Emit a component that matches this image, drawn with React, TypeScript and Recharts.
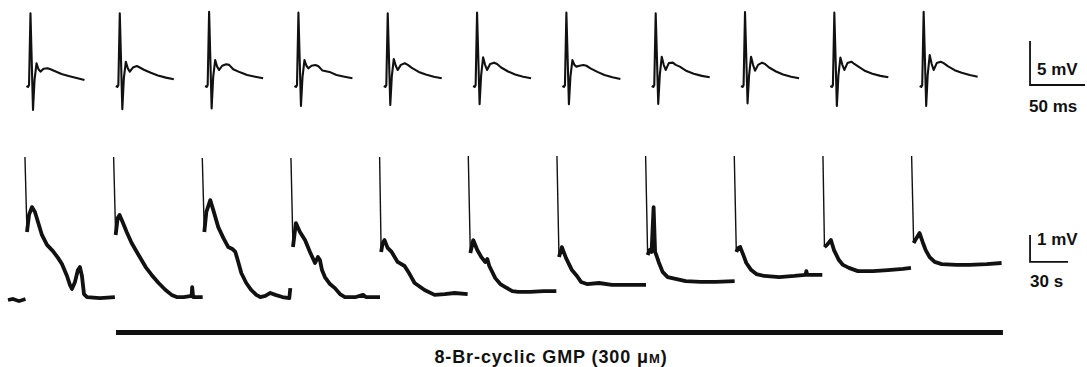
import { LineChart, Line, XAxis, YAxis } from 'recharts';

// top row: evoked potentials, time in ms from sweep start, mV from baseline
const TOP_T = [0, 1.4, 2.3, 3.6, 5.9, 7.3, 9.1, 10.9, 12.7, 15.5, 19.1, 21.8, 25.5, 31.8, 38.2, 45.5, 52.7];
const TOP_SWEEPS = [
  [0, -0.11, 0.11, 8.26, -2.73, 0.7, 2.58, 1.9, 1.63, 1.95, 2.01, 1.9, 1.7, 1.36, 1.14, 0.91, 0.68],
  [0, -0.1, 0.1, 8.26, -2.65, 0.9, 2.76, 2.0, 1.63, 2.1, 2.27, 2.1, 1.85, 1.5, 1.2, 0.95, 0.76],
  [0, -0.1, 0.1, 8.44, -2.54, 1.0, 2.95, 2.2, 1.82, 2.3, 2.46, 2.4, 1.9, 1.55, 1.25, 1.05, 0.87],
  [0, -0.1, 0.1, 8.33, -2.27, 1.0, 2.95, 2.3, 2.01, 2.3, 2.39, 2.25, 1.75, 1.6, 1.25, 1.05, 0.87],
  [0, -0.1, 0.1, 8.26, -2.16, 1.1, 3.07, 2.3, 1.82, 2.4, 2.58, 2.4, 2.05, 1.6, 1.3, 1.05, 0.87],
  [0, -0.1, 0.1, 8.33, -2.08, 1.2, 3.26, 2.4, 1.82, 2.5, 2.65, 2.5, 2.1, 1.65, 1.3, 1.05, 0.87],
  [0, -0.1, 0.1, 8.33, -2.08, 1.1, 2.95, 2.4, 2.2, 2.3, 2.39, 2.3, 2.0, 1.6, 1.25, 1.0, 0.8],
  [0, -0.1, 0.1, 8.26, -2.05, 1.2, 3.33, 2.4, 1.82, 2.6, 2.65, 2.4, 2.2, 1.7, 1.4, 1.15, 0.99],
  [0, -0.1, 0.1, 8.41, -1.97, 1.2, 3.33, 2.4, 1.74, 2.4, 2.65, 2.5, 2.1, 1.65, 1.3, 1.05, 0.87],
  [0, -0.1, 0.1, 8.33, -2.27, 1.2, 3.22, 2.4, 1.82, 2.6, 2.76, 2.5, 2.2, 1.7, 1.4, 1.15, 0.99],
  [0, -0.1, 0.1, 8.44, -2.27, 1.3, 3.52, 2.5, 1.82, 2.6, 2.76, 2.6, 2.25, 1.8, 1.5, 1.25, 1.06],
];
const TOP_START_MS = 24.1;
const TOP_INTERVAL_MS = 81.2;

// bottom row: slow potentials, [s from stimulus, mV from baseline]
const CONTROL_TAIL = [[-13.4, 0], [-9.5, 0.04], [-4.7, -0.04], [0.4, 0.04]];
const BOTTOM_SWEEPS = [
  [[0, 5.3], [1.6, 2.52], [3.2, 3.15], [5.5, 3.44], [7.9, 3.26], [10.3, 2.89], [13.4, 2.41], [17.4, 2.04], [22.1, 1.81], [26.1, 1.56], [29.2, 1.33], [33.2, 0.89], [35.5, 0.56], [37.1, 0.41], [39.5, 0.67], [41.8, 1.11], [43.4, 1.22], [45.0, 0.89], [46.6, 0.22], [49.0, 0.11], [59.2, 0.07], [71.0, 0.11]],
  [[0, 5.3], [1.6, 2.41], [3.2, 3.04], [4.7, 3.15], [7.1, 2.89], [10.3, 2.52], [14.2, 2.11], [19.7, 1.67], [25.3, 1.22], [30.0, 0.93], [35.5, 0.63], [41.0, 0.37], [45.8, 0.19], [49.8, 0.11], [55.3, 0.11], [61.6, 0.15], [62.0, 0.48], [62.8, 0.11], [70.3, 0.11]],
  [[0, 5.26], [1.6, 2.52], [3.2, 3.26], [6.3, 3.7], [8.7, 3.33], [12.6, 2.7], [16.6, 2.3], [20.5, 1.96], [23.7, 1.89], [26.1, 1.78], [28.4, 1.41], [30.8, 1.0], [34.7, 0.63], [38.7, 0.37], [42.6, 0.19], [45.8, 0.11], [49.8, 0.15], [53.7, 0.26], [57.7, 0.19], [63.2, 0.11], [68.7, 0.07], [69.5, 0.44]],
  [[0, 5.26], [1.6, 1.96], [3.9, 2.85], [7.1, 2.52], [11.1, 2.22], [15.0, 1.78], [19.0, 1.37], [21.3, 1.59], [22.9, 1.48], [24.5, 1.11], [26.8, 0.85], [30.8, 0.59], [34.7, 0.44], [38.7, 0.22], [42.6, 0.11], [51.3, 0.11], [56.9, 0.19], [59.2, 0.11], [70.3, 0.11]],
  [[0, 5.3], [1.2, 1.78], [2.4, 2.11], [3.9, 2.22], [6.3, 1.93], [9.5, 1.78], [14.2, 1.41], [19.7, 1.26], [23.7, 0.96], [27.6, 0.63], [35.5, 0.37], [43.4, 0.19], [51.3, 0.22], [59.2, 0.26], [69.5, 0.22]],
  [[0, 5.33], [1.6, 1.74], [3.9, 2.22], [7.1, 1.85], [10.3, 1.59], [13.4, 1.41], [15.0, 1.52], [16.6, 1.26], [21.3, 0.81], [25.3, 0.59], [29.2, 0.48], [34.7, 0.33], [39.5, 0.3], [48.9, 0.3], [59.2, 0.33], [69.5, 0.33]],
  [[0, 5.33], [1.6, 1.59], [3.9, 1.96], [7.1, 1.56], [11.8, 1.11], [15.8, 0.89], [19.0, 0.67], [23.7, 0.59], [33.2, 0.63], [43.4, 0.56], [55.3, 0.56], [70.3, 0.56]],
  [[0, 5.33], [1.6, 1.67], [3.2, 1.85], [4.7, 1.78], [6.3, 3.44], [7.5, 1.78], [8.7, 1.63], [10.3, 1.41], [13.4, 1.04], [17.4, 0.85], [23.7, 0.78], [31.6, 0.7], [43.4, 0.67], [55.3, 0.67], [70.3, 0.7]],
  [[0, 5.33], [1.6, 1.78], [3.2, 1.93], [4.7, 1.96], [7.1, 1.67], [9.5, 1.37], [13.4, 1.11], [17.4, 0.96], [23.7, 0.89], [35.5, 0.85], [47.4, 0.89], [56.1, 0.93], [56.9, 1.07], [57.7, 0.93], [69.5, 0.93]],
  [[0, 5.33], [1.2, 1.96], [3.2, 2.04], [6.3, 2.22], [8.7, 1.85], [12.6, 1.48], [15.8, 1.3], [20.5, 1.19], [27.6, 1.07], [39.5, 1.07], [51.3, 1.11], [63.2, 1.15], [69.5, 1.19]],
  [[0, 5.33], [1.6, 2.11], [3.9, 2.3], [6.3, 2.48], [8.7, 2.15], [11.1, 1.85], [14.2, 1.59], [18.2, 1.41], [23.7, 1.33], [35.5, 1.3], [45.8, 1.3], [59.2, 1.33], [71.0, 1.37]],
];
const BOTTOM_START_S = 19.7;
const BOTTOM_INTERVAL_S = 70.0;

// drug application (s on the bottom time base)
const DRUG_START_S = 91.6;
const DRUG_END_S = 791.8;
const DRUG_LABEL = '8-Br-cyclic GMP (300 μ';

// calibration bars
const TOP_CAL = { t: 936.4, v: 0.11, dt: 50, dv: 5 };
const BOTTOM_CAL = { t: 813.2, v: 1.41, dt: 30, dv: 1 };

const INK = '#111';
const W = 1087;

const topSeries = TOP_SWEEPS.map((vals, i) =>
  TOP_T.map((t, k) => ({ t: TOP_START_MS + i * TOP_INTERVAL_MS + t, v: vals[k] }))
);
const bottomSeries = BOTTOM_SWEEPS.map((pts, i) =>
  pts.map(([t, v]) => ({ t: BOTTOM_START_S + i * BOTTOM_INTERVAL_S + t, v }))
);
const controlTail = CONTROL_TAIL.map(([t, v]) => ({ t: BOTTOM_START_S + t, v }));
const topCal = [
  { t: TOP_CAL.t, v: TOP_CAL.v + TOP_CAL.dv },
  { t: TOP_CAL.t, v: TOP_CAL.v },
  { t: TOP_CAL.t + TOP_CAL.dt, v: TOP_CAL.v },
];
const bottomCal = [
  { t: BOTTOM_CAL.t, v: BOTTOM_CAL.v + BOTTOM_CAL.dv },
  { t: BOTTOM_CAL.t, v: BOTTOM_CAL.v },
  { t: BOTTOM_CAL.t + BOTTOM_CAL.dt, v: BOTTOM_CAL.v },
];
const drugBar = [
  { t: DRUG_START_S, v: -1.2 },
  { t: DRUG_END_S, v: -1.2 },
];

const label = (left: number, top: number, size: number): React.CSSProperties => ({
  position: 'absolute',
  left,
  top,
  fontFamily: '"Liberation Sans", Arial, sans-serif',
  fontWeight: 700,
  fontSize: size,
  lineHeight: `${size}px`,
  color: INK,
  whiteSpace: 'nowrap',
});

const trace = { type: 'linear' as const, dot: false, activeDot: false, stroke: INK, isAnimationActive: false };

export default function App() {
  return (
    <div style={{ position: 'absolute', left: 0, top: 0, width: W, height: 367, background: '#fff' }}>
      <div style={{ position: 'absolute', left: 0, top: 0 }}>
        <LineChart width={W} height={130} margin={{ top: 0, right: 0, bottom: 0, left: 0 }}>
          <XAxis type="number" dataKey="t" domain={[0, 988.2]} hide />
          <YAxis type="number" domain={[-5.0, 9.77]} hide />
          {topSeries.map((d, i) => (
            <Line key={`top-${i}`} data={d} dataKey="v" {...trace} strokeWidth={2.1} strokeLinejoin="round" />
          ))}
          <Line data={topCal} dataKey="v" {...trace} strokeWidth={1.8} />
        </LineChart>
      </div>
      <div style={{ position: 'absolute', left: 0, top: 140 }}>
        <LineChart width={W} height={200} margin={{ top: 0, right: 0, bottom: 0, left: 0 }}>
          <XAxis type="number" dataKey="t" domain={[0, 858.16]} hide />
          <YAxis type="number" domain={[-1.481, 5.926]} hide />
          <Line data={controlTail} dataKey="v" {...trace} strokeWidth={3.6} />
          {bottomSeries.map((d, i) => (
            <Line key={`spk-${i}`} data={d.slice(0, 2)} dataKey="v" {...trace} strokeWidth={1.4} />
          ))}
          {bottomSeries.map((d, i) => (
            <Line key={`bot-${i}`} data={d.slice(1)} dataKey="v" {...trace} strokeWidth={3.8} strokeLinejoin="round" />
          ))}
          <Line data={bottomCal} dataKey="v" {...trace} strokeWidth={1.8} />
          <Line data={drugBar} dataKey="v" {...trace} strokeWidth={5} />
        </LineChart>
      </div>
      <div style={label(1037, 61, 17)}>5 mV</div>
      <div style={label(1029, 98, 17)}>50 ms</div>
      <div style={label(1037, 231, 17)}>1 mV</div>
      <div style={label(1030, 273, 17)}>30 s</div>
      <div style={{ ...label(351, 348, 18), width: 400, textAlign: 'center', letterSpacing: 0.9 }}>
        {DRUG_LABEL}<span style={{ fontSize: 13 }}>M</span>)
      </div>
    </div>
  );
}
